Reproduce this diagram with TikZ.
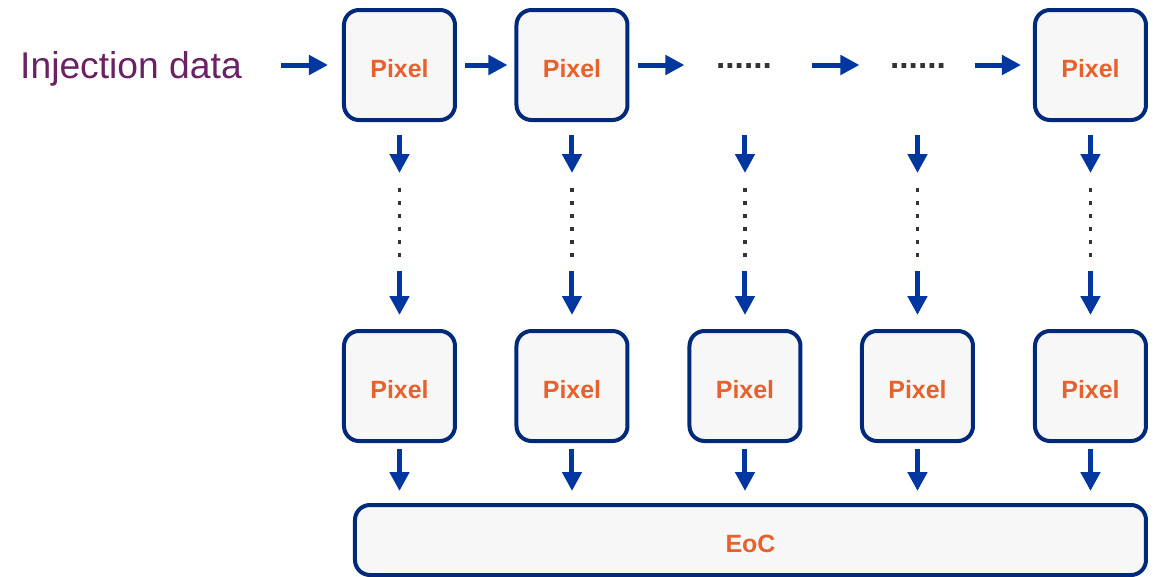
\documentclass[tikz,border=0pt]{standalone}
\usepackage{fontspec}
\setmainfont{Liberation Sans}
\usetikzlibrary{arrows.meta,calc}
\definecolor{boxline}{HTML}{00297A}
\definecolor{arrblue}{HTML}{0036A0}
\definecolor{boxfill}{HTML}{F7F7F7}
\definecolor{pixtext}{HTML}{E8602C}
\definecolor{injtext}{HTML}{6A2264}
\definecolor{dotgray}{HTML}{333333}
\begin{document}
\begin{tikzpicture}[
    pixel/.style={draw=boxline, fill=boxfill, line width=0.04cm, rounded corners=0.15cm,
        minimum width=1.11cm, minimum height=1.10cm, inner sep=0pt,
        text height=0.24cm, text depth=0pt,
        text=pixtext, font=\fontsize{7.1}{8}\selectfont\bfseries},
    arr/.style={draw=arrblue, line width=0.05cm, -{Triangle[length=0.19cm,width=0.19cm]}},
    dots/.style={draw=dotgray, line width=0.035cm, dash pattern=on 0.035cm off 0.095cm},
    hdots/.style={inner sep=0pt, text=dotgray, font=\fontsize{9.5}{10}\selectfont\bfseries}]
    \useasboundingbox (0,0) rectangle (11.59,-5.77);

    % Riga superiore
    \node[inner sep=0pt, text=injtext, font=\fontsize{10.6}{12}\selectfont] (inj) at (1.31,-0.69) {Injection data};
    \node[pixel] (T1) at (3.995,-0.65) {Pixel};
    \node[pixel] (T2) at (5.72,-0.65) {Pixel};
    \node[hdots] (D1) at (7.44,-0.66) {......};
    \node[hdots] (D2) at (9.18,-0.66) {......};
    \node[pixel] (T5) at (10.905,-0.65) {Pixel};

    % Riga inferiore
    \node[pixel] (B1) at (3.995,-3.86) {Pixel};
    \node[pixel] (B2) at (5.72,-3.86) {Pixel};
    \node[pixel] (B3) at (7.45,-3.86) {Pixel};
    \node[pixel] (B4) at (9.175,-3.86) {Pixel};
    \node[pixel] (B5) at (10.905,-3.86) {Pixel};

    % End of column
    \node[pixel, minimum width=7.91cm, minimum height=0.70cm] (E) at (7.505,-5.40) {EoC};

    % Collegamenti orizzontali
    \draw[arr] ([xshift=0.38cm]inj.east |- T1.west) -- ([xshift=-0.14cm]T1.west);
    \draw[arr] ([xshift=0.08cm]T1.east) -- ([xshift=-0.07cm]T2.west);
    \draw[arr] ([xshift=0.09cm]T2.east) -- ([xshift=-0.31cm]D1.west |- T2.east);
    \draw[arr] ([xshift=0.39cm]D1.east |- T2.east) -- ([xshift=-0.30cm]D2.west |- T2.east);
    \draw[arr] ([xshift=0.28cm]D2.east |- T5.west) -- ([xshift=-0.12cm]T5.west);

    % Collegamenti verticali
    \foreach \i in {1,...,5}{
        \coordinate (m\i) at ($(B\i.north)+(0,1.06)$);
        \draw[arr] ($(m\i |- T1.south)+(0,-0.13)$) -- ($(m\i)+(0,0.50)$);
        \draw[dots] ($(m\i)+(0,0.35)$) -- ($(m\i)+(0,-0.35)$);
        \draw[arr] ($(m\i)+(0,-0.48)$) -- ($(B\i.north)+(0,0.14)$);
        \draw[arr] ($(B\i.south)+(0,-0.06)$) -- ($(B\i.south |- E.north)+(0,0.12)$);
    }
\end{tikzpicture}
\end{document}
